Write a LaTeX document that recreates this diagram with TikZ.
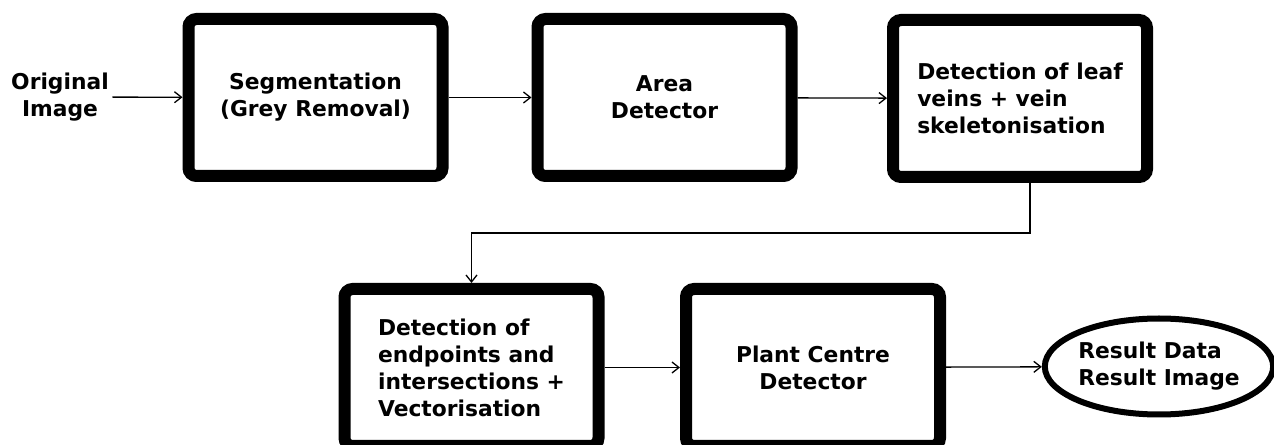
\documentclass[tikz,border=0pt]{standalone}
\usepackage{fontspec}
\setmainfont{DejaVu Sans}
\usepackage{tikz}
\usetikzlibrary{arrows.meta,shapes.geometric}
\tikzset{
  stage/.style={draw, line width=12bp, rounded corners=8bp, minimum width=254bp, minimum height=157bp, inner sep=0pt},
  result/.style={draw, ellipse, line width=6bp, minimum width=206bp, minimum height=96bp, inner sep=0pt},
  flow/.style={line width=1.3bp, ->, >={Straight Barb[length=7bp,width=11bp]}}
}

\begin{document}
\begin{tikzpicture}[x=1bp, y=-1bp, font=\fontsize{21.8bp}{27bp}\selectfont\bfseries]
\useasboundingbox (0,0) rectangle (1274,445);
% Draw processing stages
\node (orig) [align=center] at (60,97) {Original\\Image};
\node (seg) [stage, align=center] at (315.5,97.5) {Segmentation\\(Grey Removal)};
\node (area) [stage, align=center] at (664.5,97.5) {Area\\Detector};
\node (veins) [stage, align=left] at (1020,98.5) {Detection of leaf\\veins + vein\\skeletonisation};
\node (ends) [stage, align=left] at (471.5,367.5) {Detection of\\endpoints and\\intersections +\\Vectorisation};
\node (centre) [stage, align=center] at (813,367.5) {Plant Centre\\Detector};
\node (out) [result, align=left] at (1159,366.5) {Result Data\\Result Image};

% Add connecting arrows
\draw[flow] (orig) -- (seg);
\draw[flow] (seg) -- (area);
\draw[flow] (area) -- (veins);
\draw[flow] ([xshift=10bp]veins.south) -- ++(0,-50bp) -| (ends.north);
\draw[flow] (ends) -- (centre);
\draw[flow] (centre) -- (out);
\end{tikzpicture}
\end{document}
